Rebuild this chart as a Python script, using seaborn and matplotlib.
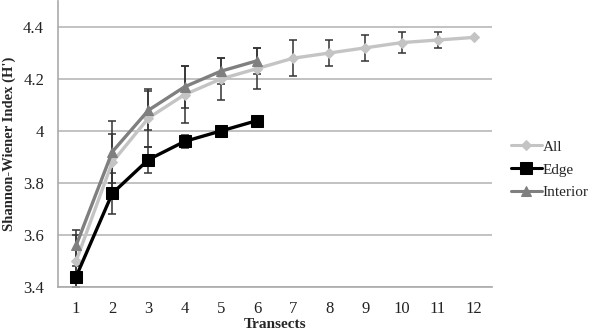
import numpy as np
import pandas as pd
import matplotlib
matplotlib.use("Agg")
import matplotlib.pyplot as plt
import seaborn as sns

transects = list(range(1, 13))
all_vals = [3.50, 3.88, 4.05, 4.14, 4.20, 4.24, 4.28, 4.30, 4.32, 4.34, 4.35, 4.36]
all_err = [0.10, 0.11, 0.11, 0.11, 0.08, 0.08, 0.07, 0.05, 0.05, 0.04, 0.03, 0.0]
edge_vals = [3.44, 3.76, 3.89, 3.96, 4.00, 4.04]
edge_err = [0.04, 0.08, 0.05, 0.025, 0.01, 0.0]
int_vals = [3.56, 3.92, 4.08, 4.17, 4.23, 4.27]
int_err = [0.06, 0.12, 0.075, 0.08, 0.05, 0.05]

series = ["All", "Edge", "Interior"]
colors = {"All": "#c4c4c4", "Edge": "#000000", "Interior": "#7f7f7f"}
markers = {"All": "D", "Edge": "s", "Interior": "^"}
msize = {"All": 5.5, "Edge": 8.5, "Interior": 7}

df = pd.concat([
    pd.DataFrame({"Transect": transects, "H": all_vals, "err": all_err, "Series": "All"}),
    pd.DataFrame({"Transect": transects[:6], "H": edge_vals, "err": edge_err, "Series": "Edge"}),
    pd.DataFrame({"Transect": transects[:6], "H": int_vals, "err": int_err, "Series": "Interior"}),
])

sns.set_style("white")
plt.rcParams["font.family"] = ["Liberation Serif", "DejaVu Serif"]

fig = plt.figure(figsize=(5.95, 3.33), dpi=100)
ax = fig.add_axes([0.0975, 0.138, 0.7295, 0.859])

for s in series:
    d = df[df["Series"] == s]
    ax.errorbar(d["Transect"], d["H"], yerr=d["err"], fmt="none",
                ecolor="#333333", elinewidth=1.1, capsize=3, capthick=1.1, zorder=2)

for s in series:
    d = df[df["Series"] == s]
    sns.lineplot(data=d, x="Transect", y="H", ax=ax, color=colors[s],
                 marker=markers[s], markersize=msize[s], markeredgecolor=colors[s],
                 linewidth=2.4, label=s, zorder=3)

ax.set_xlim(0.5, 12.5)
ax.set_ylim(3.4, 4.5)
ax.set_yticks([3.4, 3.6, 3.8, 4.0, 4.2, 4.4])
ax.set_yticklabels(["3.4", "3.6", "3.8", "4", "4.2", "4.4"])
ax.set_xticks(transects)
ax.set_xticks(np.arange(0.5, 13, 1), minor=True)
ax.tick_params(axis="x", which="major", length=0, labelsize=12, pad=10, colors="#222222")
ax.tick_params(axis="x", which="minor", length=4, direction="out", color="#999999", width=1)
ax.tick_params(axis="y", length=0, labelsize=12, pad=10, colors="#222222")
ax.grid(axis="y", color="#bdbdbd", linewidth=1.3)
ax.grid(axis="x", visible=False)
ax.set_axisbelow(True)
for sp in ["top", "right"]:
    ax.spines[sp].set_visible(False)
for sp in ["left", "bottom"]:
    ax.spines[sp].set_color("#aaaaaa")
    ax.spines[sp].set_linewidth(1.2)

ax.set_xlabel("Transects", fontsize=11, fontweight="bold", labelpad=1)
ax.set_ylabel("Shannon-Wiener Index (H')", fontsize=10.5, fontweight="bold", labelpad=5)

leg = ax.legend(loc="center left", bbox_to_anchor=(1.03, 0.41), frameon=False,
                fontsize=11, handlelength=2.0, handletextpad=0.05, labelspacing=0.6,
                borderaxespad=0)
for h in leg.legend_handles:
    h.set_linewidth(2.2)

fig.savefig("out.png", dpi=100)
